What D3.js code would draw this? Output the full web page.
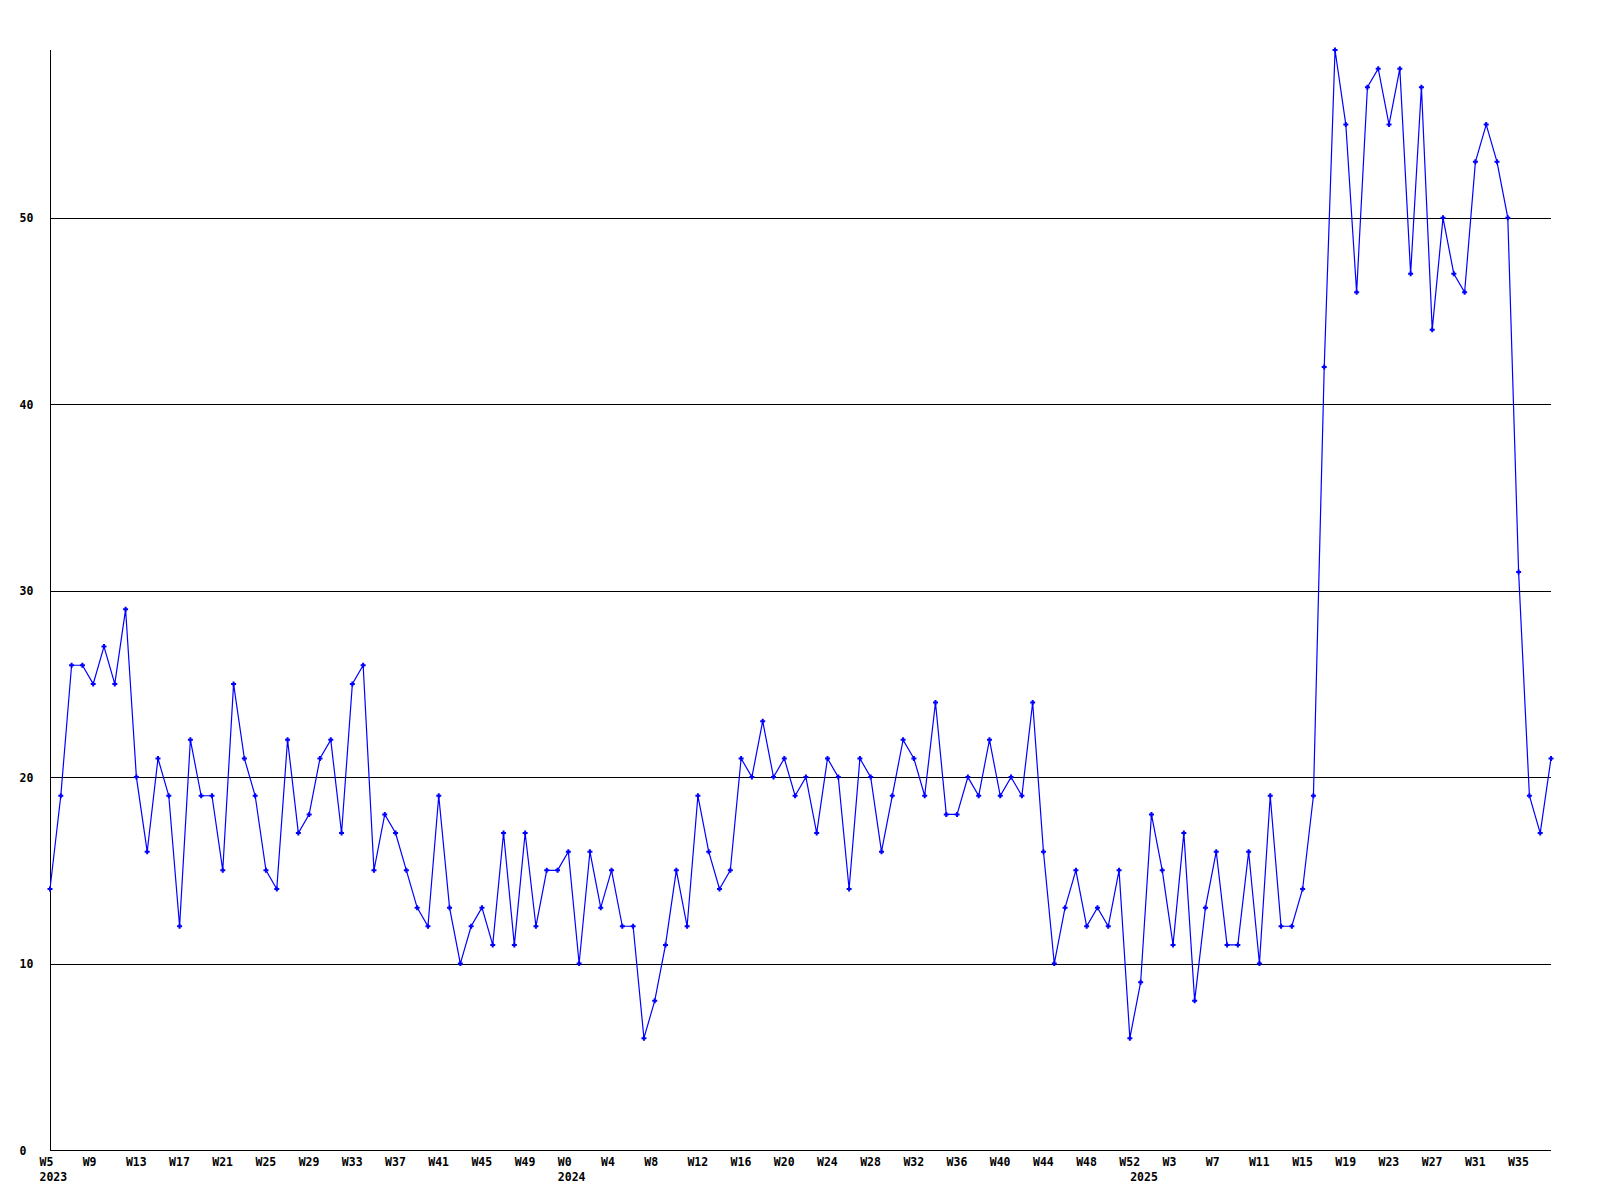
<!DOCTYPE html>
<html>
<head>
<meta charset="utf-8">
<script src="https://cdn.jsdelivr.net/npm/d3@7"></script>
<style>
  html, body { margin: 0; padding: 0; background: #fff; }
  text { font-family: "DejaVu Sans Mono", monospace; font-weight: bold; font-size: 11.5px; fill: #000; }
</style>
</head>
<body>
<div id="chart"></div>
<script>
// weekly counts, 2023 W5 .. 2025 W38
const values = [
  14,19,26,26,25,27,25,29,20,16,
  21,19,12,22,19,19,15,25,21,19,
  15,14,22,17,18,21,22,17,25,26,
  15,18,17,15,13,12,19,13,10,12,
  13,11,17,11,17,12,15,15,16,10,
  16,13,15,12,12,6,8,11,15,12,
  19,16,14,15,21,20,23,20,21,19,
  20,17,21,20,14,21,20,16,19,22,
  21,19,24,18,18,20,19,22,19,20,
  19,24,16,10,13,15,12,13,12,15,
  6,9,18,15,11,17,8,13,16,11,
  11,16,10,19,12,12,14,19,42,59,
  55,46,57,58,55,58,47,57,44,50,
  47,46,53,55,53,50,31,19,17,21
];

// a label on every 4th week
const xTickLabels = [
  'W5','W9','W13','W17','W21','W25','W29','W33','W37','W41','W45','W49',
  'W0','W4','W8','W12','W16','W20','W24','W28','W32','W36','W40','W44','W48','W52',
  'W3','W7','W11','W15','W19','W23','W27','W31','W35'
];
const tickStep = 4;

// year labels and the week index where each year starts
const yearLabels = ['2023', '2024', '2025'];
const yearStart = [0, 48, 101];

const yTicks = [0, 10, 20, 30, 40, 50];

const width = 1600, height = 1200;
const margin = { left: 50, right: 1551, top: 50, bottom: 1150 };

const svg = d3.select('#chart').append('svg')
  .attr('width', width)
  .attr('height', height);

const x = d3.scaleLinear().domain([0, values.length - 1]).range([margin.left, margin.right]);
const y = d3.scaleLinear().domain([0, d3.max(values)]).range([margin.bottom, margin.top]);

// grid lines
svg.selectAll('.grid')
  .data(yTicks.filter(d => d > 0))
  .enter().append('line')
  .attr('x1', margin.left).attr('x2', margin.right)
  .attr('y1', d => Math.round(y(d)) + 0.5)
  .attr('y2', d => Math.round(y(d)) + 0.5)
  .attr('stroke', '#000')
  .attr('shape-rendering', 'crispEdges');

// axes
svg.append('line')
  .attr('x1', margin.left + 0.5).attr('x2', margin.left + 0.5)
  .attr('y1', margin.top).attr('y2', margin.bottom)
  .attr('stroke', '#000').attr('shape-rendering', 'crispEdges');
svg.append('line')
  .attr('x1', margin.left).attr('x2', margin.right)
  .attr('y1', margin.bottom + 0.5).attr('y2', margin.bottom + 0.5)
  .attr('stroke', '#000').attr('shape-rendering', 'crispEdges');

// y labels
svg.selectAll('.ylab')
  .data(yTicks)
  .enter().append('text')
  .attr('x', 19.5)
  .attr('y', d => y(d) + 4.5)
  .text(d => d);

// x labels
svg.selectAll('.xlab')
  .data(xTickLabels)
  .enter().append('text')
  .attr('x', (d, i) => x(i * tickStep) - 10.5)
  .attr('y', 1166)
  .text(d => d);

svg.selectAll('.year')
  .data(yearLabels)
  .enter().append('text')
  .attr('x', (d, i) => x(yearStart[i]) - 10.5)
  .attr('y', 1181)
  .text(d => d);

// the series
const line = d3.line()
  .x((d, i) => x(i))
  .y(d => y(d));

svg.append('path')
  .datum(values)
  .attr('d', line)
  .attr('fill', 'none')
  .attr('stroke', '#0000ff')
  .attr('stroke-width', 1.2);

svg.selectAll('.pt')
  .data(values)
  .enter().append('path')
  .attr('transform', (d, i) => 'translate(' + x(i) + ',' + y(d) + ')')
  .attr('d', 'M-2.5,-1h5v2h-5z M-1,-2.5h2v5h-2z')
  .attr('fill', '#0000ff');
</script>
</body>
</html>
